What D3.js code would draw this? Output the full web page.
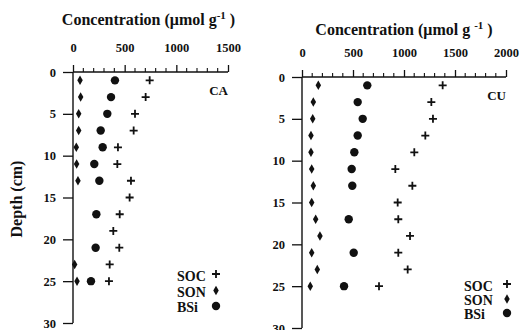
<!DOCTYPE html>
<html><head><meta charset="utf-8">
<script src="https://cdn.jsdelivr.net/npm/d3@7"></script>
<style>body{margin:0;background:#fff}svg{display:block}text{font-family:"Liberation Serif","Times New Roman",serif;font-weight:bold;fill:#111}</style>
</head><body>
<svg id="c" width="521" height="330"></svg>
<script>
const depths = [1,3,5,7,9,11,13,15,17,19,21,23,25];
// CA core (null = not visible)
const caSOC = [742,703,600,587,435,429,561,548,452,390,448,355,348];
const caSON = [68,74,55,55,32,35,48,null,null,null,null,16,39];
const caBSi = [406,368,332,268,287,206,255,null,226,null,219,null,174];
// CU core
const cuSOC = [1379,1268,1284,1209,1101,915,1082,938,944,1059,944,1036,755];
const cuSON = [160,111,105,88,88,95,111,95,134,176,95,150,81];
const cuBSi = [640,546,595,546,513,487,493,null,458,null,507,null,412];
const depthTicks = [0,5,10,15,20,25,30];
const caXTicks = [0,500,1000,1500];
const cuXTicks = [0,500,1000,1500,2000];
const legendLabels = ["SOC","SON","BSi"];

const svg = d3.select("#c");
const ink = "#111";

function marker(g, type, x, y){
  if(type==="SOC"){
    g.append("path").attr("d",`M${x-4},${y}H${x+4}M${x},${y-4}V${y+4}`)
     .attr("stroke",ink).attr("stroke-width",1.8).attr("fill","none");
  } else if(type==="SON"){
    g.append("path").attr("d",d3.symbol(d3.symbolDiamond,26)())
     .attr("transform",`translate(${x},${y})`).attr("fill",ink);
  } else {
    g.append("circle").attr("cx",x).attr("cy",y).attr("r",4.2).attr("fill",ink);
  }
}

function panel(opt){
  const x = d3.scaleLinear().domain([0,opt.xmax]).range([opt.x0,opt.x1]);
  const y = d3.scaleLinear().domain([0,30]).range([opt.y0,opt.y1]);
  const g = svg.append("g");
  // title
  const t = g.append("text").attr("x",(opt.x0+opt.x1)/2+opt.tdx).attr("y",opt.ty)
    .attr("text-anchor","middle").style("font-size","16px");
  t.append("tspan").text("Concentration (\u03bcmol g"+opt.gap);
  t.append("tspan").attr("dy",-6).style("font-size","11px").text("-1");
  t.append("tspan").attr("dy",6).text(" )");
  // top axis
  const ax = d3.axisTop(x).tickValues(opt.xticks).tickSize(7).tickFormat(d3.format("d"));
  const axG = g.append("g").attr("transform",`translate(0,${opt.y0})`).call(ax);
  axG.select(".domain").attr("d",`M${opt.x0},0H${opt.x1}`).attr("stroke",ink).attr("stroke-width",1.4);
  axG.selectAll(".tick line").attr("stroke",ink).attr("stroke-width",1.3);
  axG.selectAll(".tick text").attr("dy",0).attr("y",-20).style("font-size","12.5px").style("font-family","Liberation Serif").style("font-weight","bold").attr("fill",ink);
  // minor ticks
  const minor = d3.range(0,opt.xmax+1,100).filter(v=>v%500!==0);
  g.selectAll(".mn").data(minor).join("line")
    .attr("x1",d=>x(d)).attr("x2",d=>x(d)).attr("y1",opt.y0).attr("y2",opt.y0-4)
    .attr("stroke",ink).attr("stroke-width",1.1);
  // left axis
  const ay = d3.axisLeft(y).tickValues(depthTicks).tickSize(10).tickPadding(7);
  const ayG = g.append("g").attr("transform",`translate(${opt.x0},0)`).call(ay);
  ayG.select(".domain").attr("d",`M0,${opt.y0}V${opt.y1}`).attr("stroke",ink).attr("stroke-width",1.4);
  ayG.selectAll(".tick line").attr("stroke",ink).attr("stroke-width",1.3);
  ayG.selectAll(".tick text").style("font-size","12.5px").style("font-family","Liberation Serif").style("font-weight","bold").attr("fill",ink);
  // site label
  g.append("text").attr("x",opt.x1).attr("y",opt.y0+opt.lblDy).attr("text-anchor","end")
    .style("font-size","13px").text(opt.name);
  // data
  const series = [["SOC",opt.soc],["SON",opt.son],["BSi",opt.bsi]];
  series.forEach(([k,vals])=>{
    vals.forEach((v,i)=>{ if(v!==null) marker(g,k,x(v),y(depths[i])); });
  });
  // legend
  legendLabels.forEach((k,i)=>{
    const by = opt.legY + i*opt.legStep;
    g.append("text").attr("x",opt.legX).attr("y",by).style("font-size","14px").text(k);
    marker(g,k,opt.legSymX,by-6-(i===0?1:0));
  });
}

panel({name:"CA",xmax:1500,x0:73,x1:228,y0:72,y1:323,xticks:caXTicks,ty:25,tdx:-2,gap:"",
  soc:caSOC,son:caSON,bsi:caBSi,lblDy:23,legX:177,legY:281,legStep:15.5,legSymX:216});
panel({name:"CU",xmax:2000,x0:302,x1:506,y0:77,y1:328,xticks:cuXTicks,ty:35,tdx:0,gap:" ",
  soc:cuSOC,son:cuSON,bsi:cuBSi,lblDy:23,legX:464,legY:291,legStep:14,legSymX:507});

svg.append("text").attr("transform","translate(22,199) rotate(-90)").attr("text-anchor","middle")
  .style("font-size","16px").text("Depth (cm)");
</script>
</body></html>
